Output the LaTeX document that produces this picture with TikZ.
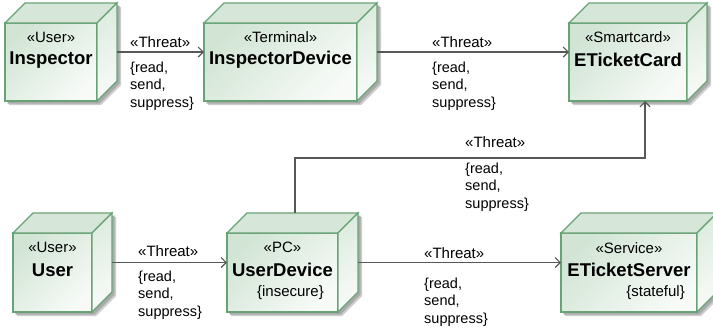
\documentclass[tikz,border=0pt]{standalone}
\usepackage{fontspec}
\setmainfont{Liberation Sans}
\usetikzlibrary{arrows.meta}
\definecolor{edgec}{RGB}{104,163,118}
\definecolor{faceA}{RGB}{210,229,213}
\definecolor{faceB}{RGB}{247,250,247}
\definecolor{topc}{RGB}{214,231,217}
\definecolor{sidec}{RGB}{222,236,224}
\definecolor{linec}{RGB}{88,88,88}
\definecolor{shadowA}{RGB}{205,205,205}
\definecolor{shadowB}{RGB}{170,170,170}
\tikzset{
  boxarea/.style={inner sep=0pt, outer sep=0pt},
  faceedge/.style={draw=edgec, line width=1.2pt, line join=miter},
  stereo/.style={font=\fontsize{15}{18}\selectfont, inner sep=0pt},
  bname/.style={font=\bfseries\fontsize{18.5}{21}\selectfont, inner sep=0pt},
  threat/.style={draw=linec, line width=1.1pt, -{Straight Barb[length=5pt,width=10pt,line width=1.1pt]}},
  elabel/.style={font=\fontsize{15}{18}\selectfont, inner sep=0pt, anchor=west},
  cons/.style={font=\fontsize{14.5}{17.5}\selectfont, inner sep=0pt, anchor=north west, align=left},
}
% #1 name, #2 front left x, #3 back top y, #4 back right x, #5 front bottom y
\newcommand\cubebox[5]{%
  \node[boxarea, minimum width={#4-#2}, minimum height={#5-#3}] (#1) at ({(#2+#4)/2},{(#3+#5)/2}) {};
  \fill[shadowA] ({#2+4},{#3+24}) -- ({#2+24},{#3+4}) -- ({#4+4},{#3+4}) -- ({#4+4},{#5-16}) -- ({#4-16},{#5+4}) -- ({#2+4},{#5+4}) -- cycle;
  \fill[shadowB] ({#2+2.5},{#3+22.5}) -- ({#2+22.5},{#3+2.5}) -- ({#4+2.5},{#3+2.5}) -- ({#4+2.5},{#5-17.5}) -- ({#4-17.5},{#5+2.5}) -- ({#2+2.5},{#5+2.5}) -- cycle;
  \path[faceedge, top color=faceA, bottom color=faceB, shading angle=45] ({#2},{#3+20}) rectangle ({#4-20},{#5});
  \path[faceedge, fill=topc] ({#2},{#3+20}) -- ({#2+20},{#3}) -- ({#4},{#3}) -- ({#4-20},{#3+20}) -- cycle;
  \path[faceedge, top color=sidec, bottom color=faceB, shading angle=30] ({#4-20},{#3+20}) -- ({#4},{#3}) -- ({#4},{#5-20}) -- ({#4-20},{#5}) -- cycle;
}
\begin{document}
\begin{tikzpicture}[x=1pt,y=-1pt]
\useasboundingbox (0,0) rectangle (713,333);
\clip (0,0) rectangle (713,333);
\fill[white] (0,0) rectangle (713,333);

\cubebox{insp}{5}{3}{117}{101}
\cubebox{idev}{204}{3}{377}{101}
\cubebox{ecard}{569}{3}{707}{101}
\cubebox{user}{13}{213}{112}{312}
\cubebox{udev}{227}{213}{358}{312}
\cubebox{eserv}{561}{213}{717}{312}

\node[stereo] (inspS) at (51,37) {«User»};
\node[bname] (inspN) at (51,60) {Inspector};
\node[stereo] (idevS) at (280.5,37) {«Terminal»};
\node[bname] (idevN) at (280.5,60) {InspectorDevice};
\node[stereo] (ecardS) at (628,37) {«Smartcard»};
\node[bname] (ecardN) at (628,60) {ETicketCard};
\node[stereo] (userS) at (52.5,247) {«User»};
\node[bname] (userN) at (52.5,270) {User};
\node[stereo] (udevS) at (282.5,247) {«PC»};
\node[bname] (udevN) at (282.5,270) {UserDevice};
\node[stereo, anchor=east] (udevC) at (324,293) {\{insecure\}};
\node[stereo] (eservS) at (629,248) {«Service»};
\node[bname] (eservN) at (629,270) {ETicketServer};
\node[stereo, anchor=east] (eservC) at (685,293) {\{stateful\}};

\draw[threat] (insp.east) -- (idev.west);
\draw[threat] (idev.east) -- (ecard.west);
\draw[threat] ([xshift=2.5pt]udev.north) -- ++(0,-55) -| ([xshift=7pt]ecard.south);
\draw[threat] (user.east) -- (udev.west);
\draw[threat] (udev.east) -- (eserv.west);

\node[elabel] (l1) at (130,42) {«Threat»};
\node[cons] (c1) at (130,61.5) {\{read,\\send,\\suppress\}};
\node[elabel] (l2) at (432,42) {«Threat»};
\node[cons] (c2) at (432,61.5) {\{read,\\send,\\suppress\}};
\node[elabel] (l3) at (465,142) {«Threat»};
\node[cons] (c3) at (465,162.5) {\{read,\\send,\\suppress\}};
\node[elabel] (l4) at (138,251) {«Threat»};
\node[cons] (c4) at (138,270.5) {\{read,\\send,\\suppress\}};
\node[elabel] (l5) at (424,253) {«Threat»};
\node[cons] (c5) at (424,277.5) {\{read,\\send,\\suppress\}};
\end{tikzpicture}
\end{document}
